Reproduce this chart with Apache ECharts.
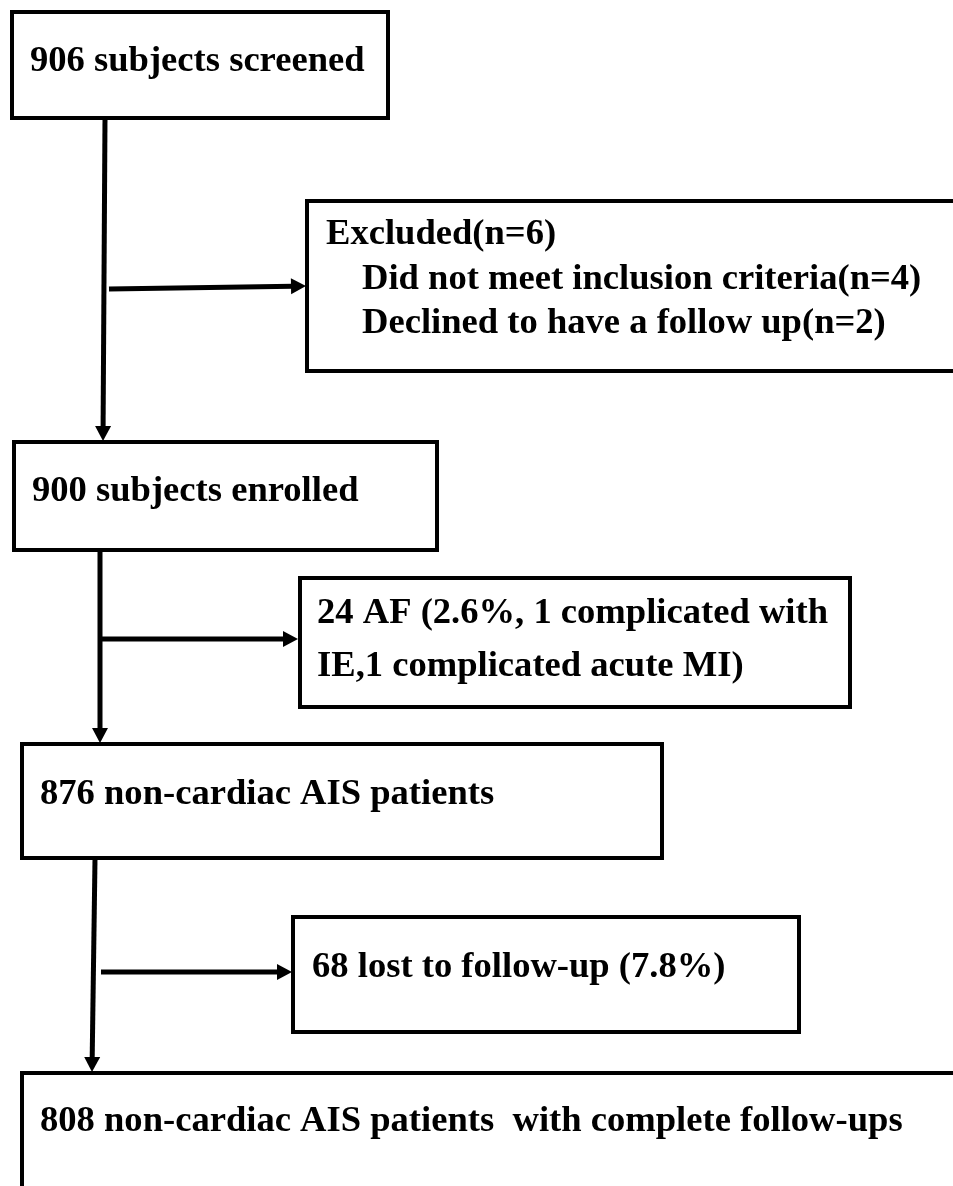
<!DOCTYPE html>
<html><head><meta charset="utf-8">
<script src="https://cdn.jsdelivr.net/npm/echarts@6/dist/echarts.min.js"></script>
<style>html,body{margin:0;padding:0;background:#fff}#c{width:953px;height:1186px}</style>
</head><body><div id="c"></div>
<script>
// ---- content ----
const stageCounts = [906, 900, 876, 808];
const stageLabels = [
  '906 subjects screened',
  '900 subjects enrolled',
  '876 non-cardiac AIS patients',
  '808 non-cardiac AIS patients  with complete follow-ups'
];
const exclusionCounts = [6, 24, 68];
const exclusionLabels = [
  ['Excluded(n=6)', 'Did not meet inclusion criteria(n=4)', 'Declined to have a follow up(n=2)'],
  ['24 AF (2.6%, 1 complicated with', 'IE,1 complicated acute MI)'],
  ['68 lost to follow-up (7.8%)']
];

// ---- layout (positions in the hidden axis domain: x 0..953, y 0..1186) ----
const stageLayout = [
  { rect: [12, 12, 388, 118],   lines: [[30, 72]] },
  { rect: [14, 442, 437, 550],  lines: [[32, 502]] },
  { rect: [22, 744, 662, 858],  lines: [[40, 805]] },
  { rect: [22, 1073, 962, 1200], lines: [[40, 1132]] }
];
const exclusionLayout = [
  { rect: [307, 201, 962, 371], lines: [[326, 245], [362, 290], [362, 334]] },
  { rect: [300, 578, 850, 707], lines: [[317, 624], [317, 677]] },
  { rect: [293, 917, 799, 1032], lines: [[312, 978]] }
];
const arrowLayout = [
  [105, 118, 103, 441],
  [109, 289, 306, 286],
  [100, 551, 100, 743],
  [100, 639, 298, 639],
  [95, 859, 92, 1072],
  [101, 972, 292, 972]
];

const FONT_SIZE = 36.6;
const FONT = 'bold ' + FONT_SIZE + 'px "Liberation Serif", "Times New Roman", serif';

const boxes = [];
stageLayout.forEach((l, i) => boxes.push({ rect: l.rect, lines: l.lines, text: [stageLabels[i]] }));
exclusionLayout.forEach((l, i) => boxes.push({ rect: l.rect, lines: l.lines, text: exclusionLabels[i] }));

const chart = echarts.init(document.getElementById('c'), null, { renderer: 'canvas' });
chart.setOption({
  animation: false,
  backgroundColor: '#ffffff',
  grid: { left: 0, right: 0, top: 0, bottom: 0 },
  xAxis: { type: 'value', min: 0, max: 953, show: false },
  yAxis: { type: 'value', min: 0, max: 1186, inverse: true, show: false },
  series: [
    {
      type: 'custom',
      clip: false,
      data: boxes.map((b, i) => [b.rect[0], b.rect[1], i]),
      renderItem: function (params, api) {
        const b = boxes[params.dataIndex];
        const p0 = api.coord([b.rect[0], b.rect[1]]);
        const p1 = api.coord([b.rect[2], b.rect[3]]);
        const children = [{
          type: 'rect',
          shape: { x: p0[0], y: p0[1], width: p1[0] - p0[0], height: p1[1] - p0[1] },
          style: { fill: '#ffffff', stroke: '#000000', lineWidth: 4, lineJoin: 'miter' }
        }];
        b.text.forEach((t, k) => {
          const pt = api.coord(b.lines[k]);
          children.push({
            type: 'text',
            style: {
              text: t, x: pt[0], y: pt[1] - 10,
              font: FONT, fill: '#000000',
              align: 'left', verticalAlign: 'middle'
            }
          });
        });
        return { type: 'group', children: children };
      }
    },
    {
      type: 'custom',
      clip: false,
      data: arrowLayout.map((a, i) => [a[0], a[1], i]),
      renderItem: function (params, api) {
        const a = arrowLayout[params.dataIndex];
        const s = api.coord([a[0], a[1]]);
        const e = api.coord([a[2], a[3]]);
        const dx = e[0] - s[0], dy = e[1] - s[1];
        const len = Math.sqrt(dx * dx + dy * dy);
        const ux = dx / len, uy = dy / len;
        const nx = -uy, ny = ux;
        const L = 15, W = 8;
        const bx = e[0] - ux * L, by = e[1] - uy * L;
        return {
          type: 'group',
          children: [
            {
              type: 'line',
              shape: { x1: s[0], y1: s[1], x2: bx + ux * 2, y2: by + uy * 2 },
              style: { stroke: '#000000', lineWidth: 5 }
            },
            {
              type: 'polygon',
              shape: { points: [[e[0], e[1]], [bx + nx * W, by + ny * W], [bx - nx * W, by - ny * W]] },
              style: { fill: '#000000' }
            }
          ]
        };
      }
    }
  ]
});
</script>
</body></html>
